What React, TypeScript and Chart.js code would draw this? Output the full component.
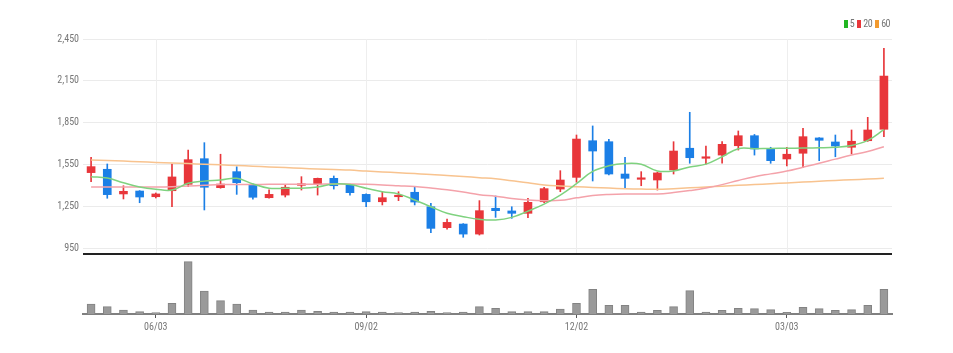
import React, { useEffect, useRef } from "react";
import { Chart, registerables } from "chart.js";
Chart.register(...registerables);

const dates = [
  "05/06", "05/13", "05/20", "05/27", "06/03", "06/10", "06/17", "06/24", "07/01", "07/08",
  "07/15", "07/22", "07/29", "08/05", "08/12", "08/19", "08/26", "09/02", "09/09", "09/16",
  "09/23", "09/30", "10/07", "10/14", "10/21", "10/28", "11/04", "11/11", "11/18", "11/25",
  "12/02", "12/09", "12/16", "12/23", "12/30", "01/06", "01/13", "01/20", "01/27", "02/03",
  "02/10", "02/17", "02/24", "03/03", "03/10", "03/17", "03/24", "03/31", "04/07", "04/14",
];
const openP = [
  1491, 1515, 1338, 1359, 1318, 1361, 1407, 1591, 1383, 1498,
  1407, 1311, 1330, 1400, 1409, 1450, 1402, 1335, 1282, 1318,
  1350, 1246, 1096, 1122, 1050, 1235, 1216, 1199, 1282, 1373,
  1457, 1720, 1713, 1481, 1443, 1438, 1510, 1666, 1594, 1617,
  1684, 1756, 1658, 1589, 1630, 1740, 1711, 1673, 1720, 1802,
];
const highP = [
  1601, 1553, 1397, 1362, 1345, 1553, 1653, 1706, 1623, 1533,
  1410, 1368, 1402, 1462, 1452, 1467, 1405, 1338, 1350, 1354,
  1386, 1271, 1158, 1125, 1290, 1323, 1246, 1307, 1386, 1505,
  1761, 1826, 1730, 1601, 1498, 1495, 1713, 1924, 1682, 1713,
  1790, 1765, 1673, 1673, 1809, 1742, 1761, 1797, 1888, 2383,
];
const lowP = [
  1426, 1307, 1302, 1275, 1309, 1246, 1390, 1223, 1379, 1335,
  1300, 1307, 1316, 1366, 1330, 1373, 1330, 1246, 1259, 1290,
  1259, 1060, 1086, 1027, 1043, 1170, 1163, 1168, 1275, 1354,
  1422, 1431, 1474, 1379, 1397, 1366, 1481, 1558, 1551, 1558,
  1653, 1617, 1558, 1539, 1526, 1577, 1605, 1625, 1715, 1749,
];
const closeP = [
  1534, 1333, 1357, 1316, 1338, 1460, 1584, 1386, 1409, 1419,
  1314, 1335, 1386, 1409, 1450, 1397, 1347, 1282, 1311, 1328,
  1280, 1091, 1134, 1050, 1218, 1218, 1199, 1278, 1376, 1438,
  1732, 1646, 1481, 1450, 1452, 1489, 1646, 1598, 1603, 1694,
  1756, 1661, 1577, 1623, 1749, 1723, 1682, 1716, 1797, 2184,
];
const volume = [
  100000, 73000, 40000, 23000, 13000, 107000, 523000, 230000, 133000, 100000,
  40000, 20000, 20000, 40000, 27000, 20000, 20000, 23000, 20000, 13000,
  20000, 27000, 13000, 20000, 73000, 57000, 23000, 23000, 23000, 50000,
  107000, 247000, 87000, 87000, 20000, 37000, 73000, 233000, 20000, 37000,
  57000, 53000, 43000, 17000, 67000, 53000, 37000, 43000, 87000, 247000,
];
const ma5 = [
  1462, 1452, 1418, 1388, 1372, 1366, 1415, 1430, 1438, 1450,
  1410, 1379, 1379, 1379, 1388, 1409, 1405, 1379, 1354, 1338,
  1295, 1246, 1199, 1175, 1156, 1151, 1170, 1215, 1265, 1330,
  1412, 1500, 1540, 1556, 1551, 1503, 1503, 1532, 1552, 1605,
  1663, 1663, 1665, 1666, 1667, 1669, 1673, 1685, 1722, 1800,
];
const ma20 = [
  1388, 1388, 1388, 1388, 1388, 1390, 1395, 1400, 1405, 1406,
  1406, 1407, 1407, 1407, 1408, 1409, 1409, 1407, 1403, 1397,
  1391, 1380, 1368, 1352, 1333, 1322, 1305, 1295, 1290, 1292,
  1310, 1326, 1334, 1338, 1338, 1338, 1348, 1362, 1380, 1405,
  1435, 1462, 1482, 1502, 1530, 1558, 1588, 1617, 1642, 1677,
];
const ma60 = [
  1582, 1578, 1574, 1569, 1564, 1560, 1556, 1551, 1547, 1542,
  1537, 1532, 1527, 1522, 1517, 1513, 1509, 1502, 1496, 1490,
  1484, 1478, 1470, 1463, 1455, 1447, 1433, 1419, 1403, 1395,
  1390, 1385, 1380, 1376, 1373, 1371, 1376, 1382, 1388, 1394,
  1400, 1405, 1411, 1417, 1423, 1429, 1435, 1440, 1445, 1450,
];
const priceTicks = [950, 1250, 1550, 1850, 2150, 2450];
const dateTicks = ["06/03", "09/02", "12/02", "03/03"];
const priceMin = 907;
const priceMax = 2450;
const volumeMax = 600000;
const legendItems = [
  { label: "5", color: "#22b622" },
  { label: "20", color: "#e8363a" },
  { label: "60", color: "#f39a2e" },
];

const UP = "#e8363a";
const DOWN = "#1b7fe6";
const FONT = "'Liberation Sans Narrow', 'Arial Narrow', 'Roboto Condensed', Roboto, sans-serif";

export default function App() {
  const ref = useRef<HTMLCanvasElement>(null);

  useEffect(() => {
    if (!ref.current) return;
    const colors = openP.map((o, i) => (closeP[i] >= o ? UP : DOWN));

    const decor = {
      id: "decor",
      beforeDatasetsDraw(chart: any) {
        const { ctx, scales } = chart;
        const x = scales.x;
        const y = scales.y;
        ctx.save();
        ctx.strokeStyle = "#eeeeee";
        ctx.lineWidth = 1;
        x.ticks.forEach((t: any, i: number) => {
          if (!dateTicks.includes(dates[t.value])) return;
          const px = Math.round(x.getPixelForTick(i)) + 0.5;
          ctx.beginPath();
          ctx.moveTo(px, y.top);
          ctx.lineTo(px, y.bottom);
          ctx.stroke();
        });
        ctx.restore();
      },
      afterDatasetsDraw(chart: any) {
        const { ctx, chartArea, scales } = chart;
        ctx.save();
        ctx.strokeStyle = "#222222";
        ctx.lineWidth = 2;
        ctx.beginPath();
        ctx.moveTo(chartArea.left, scales.y.bottom);
        ctx.lineTo(chartArea.right, scales.y.bottom);
        ctx.stroke();
        ctx.restore();
      },
    };

    const chart = new Chart(ref.current, {
      type: "bar",
      data: {
        labels: dates,
        datasets: [
          {
            type: "line",
            label: "5",
            data: ma5,
            yAxisID: "y",
            borderColor: "#7fd27f",
            borderWidth: 1.5,
            pointRadius: 0,
            tension: 0.4,
            order: 0,
          } as any,
          {
            type: "line",
            label: "20",
            data: ma20,
            yAxisID: "y",
            borderColor: "#f4a2aa",
            borderWidth: 1.5,
            pointRadius: 0,
            tension: 0.4,
            order: 0,
          },
          {
            type: "line",
            label: "60",
            data: ma60,
            yAxisID: "y",
            borderColor: "#f8c38f",
            borderWidth: 1.5,
            pointRadius: 0,
            tension: 0.4,
            order: 0,
          },
          {
            type: "bar",
            label: "body",
            data: openP.map((o, i) => [o, closeP[i]]),
            yAxisID: "y",
            backgroundColor: colors,
            barThickness: 8,
            grouped: false,
            minBarLength: 1.5,
            order: 1,
          },
          {
            type: "bar",
            label: "wick",
            data: lowP.map((l, i) => [l, highP[i]]),
            yAxisID: "y",
            backgroundColor: colors,
            barThickness: 1,
            grouped: false,
            order: 2,
          },
          {
            type: "bar",
            label: "volume",
            data: volume,
            yAxisID: "yv",
            backgroundColor: "#9a9a9a",
            borderColor: "#838383",
            borderWidth: 1,
            barThickness: 8,
            grouped: false,
            order: 3,
          },
        ],
      },
      options: {
        animation: false,
        responsive: false,
        devicePixelRatio: 1,
        layout: { padding: { top: 31, right: 53, left: 0, bottom: 0 } },
        plugins: {
          legend: { display: false },
          tooltip: { enabled: false },
        },
        scales: {
          x: {
            type: "category",
            offset: true,
            afterFit: (s: any) => {
              s.height = 31;
            },
            border: { display: true, color: "#808080", width: 2 },
            grid: {
              display: true,
              offset: false,
              drawOnChartArea: false,
              drawTicks: true,
              tickLength: 4,
              tickColor: (c: any) => (dateTicks.includes(dates[c.index]) ? "#555555" : "rgba(0,0,0,0)"),
            },
            ticks: {
              autoSkip: false,
              maxRotation: 0,
              padding: 3,
              color: "#777777",
              font: { family: FONT, size: 10 },
              callback: (v: any, i: number) => (dateTicks.includes(dates[i]) ? dates[i] : ""),
            },
          },
          yv: {
            type: "linear",
            position: "left",
            stack: "main",
            stackWeight: 60,
            min: 0,
            max: volumeMax,
            afterFit: (s: any) => {
              s.width = 75;
            },
            border: { display: false },
            grid: { display: false },
            ticks: { display: false },
          },
          y: {
            type: "linear",
            position: "left",
            stack: "main",
            stackWeight: 215,
            min: priceMin,
            max: priceMax,
            afterFit: (s: any) => {
              s.width = 75;
            },
            afterBuildTicks: (s: any) => {
              s.ticks = priceTicks.map((v) => ({ value: v }));
            },
            border: { display: false },
            grid: { color: "#ebebeb", drawTicks: false },
            ticks: {
              padding: 4,
              color: "#777777",
              font: { family: FONT, size: 10 },
              callback: (v: any) => Number(v).toLocaleString("en-US"),
            },
          },
        },
      } as any,
      plugins: [decor],
    });
    return () => chart.destroy();
  }, []);

  return (
    <div style={{ position: "relative", width: 937, height: 337 }}>
      <canvas ref={ref} width={937} height={337} style={{ display: "block", width: 937, height: 337 }} />
      <div
        style={{
          position: "absolute",
          top: 10,
          right: 55,
          display: "flex",
          alignItems: "center",
          fontFamily: FONT,
          fontSize: 10,
          letterSpacing: -0.5,
          color: "#777",
          lineHeight: "12px",
        }}
      >
        {legendItems.map((it) => (
          <span key={it.label} style={{ display: "inline-flex", alignItems: "center", marginLeft: 3 }}>
            <span style={{ display: "inline-block", width: 4, height: 8, background: it.color, marginRight: 2 }} />
            {it.label}
          </span>
        ))}
      </div>
    </div>
  );
}
